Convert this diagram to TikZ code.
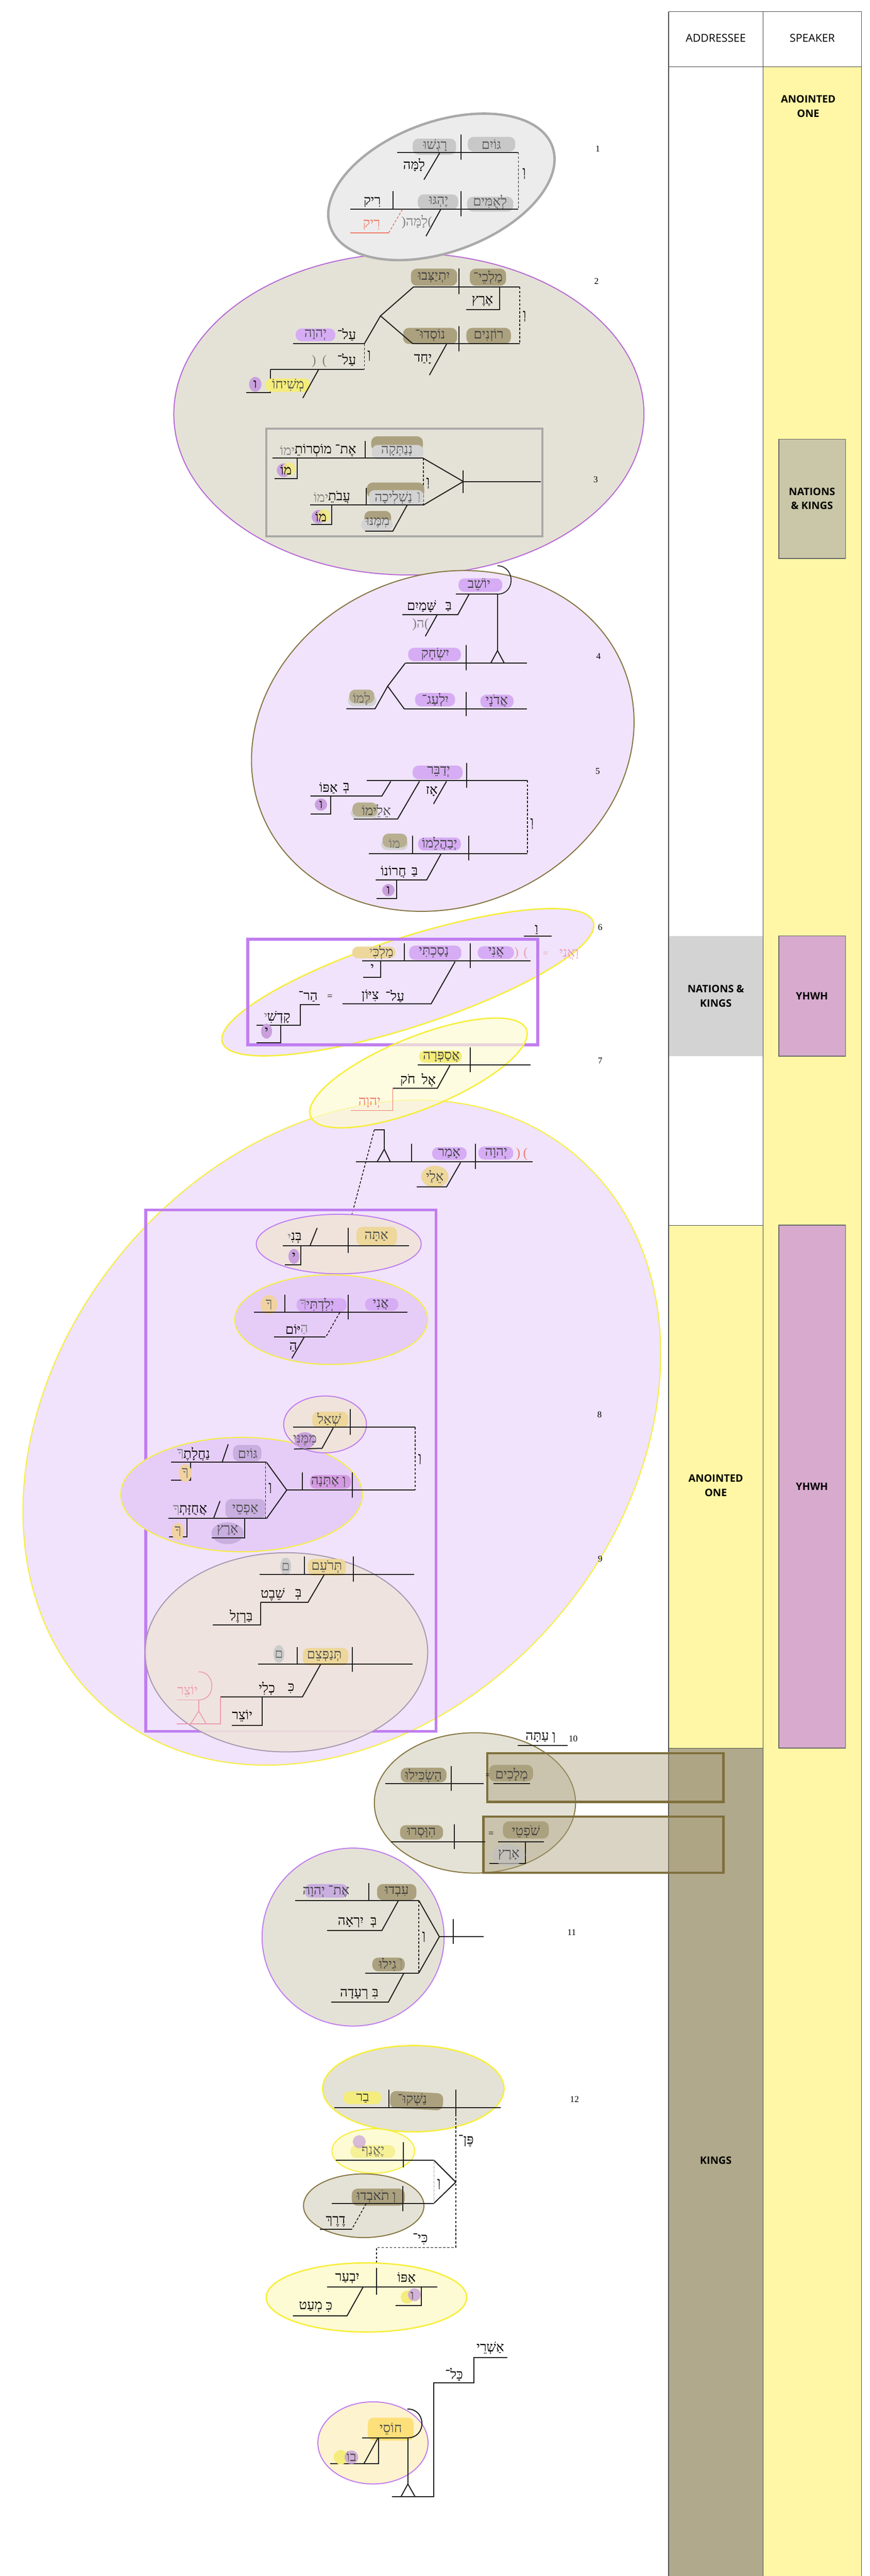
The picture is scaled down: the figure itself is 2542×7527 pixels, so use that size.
\documentclass[tikz,border=0pt]{standalone}
\usepackage{fontspec}
\setmainfont{Liberation Serif}
\newfontfamily\heb[Script=Hebrew]{Liberation Serif}
\newfontfamily\osans{Open Sans}
\TeXXeTstate=1
\definecolor{colY}{HTML}{FFF7A5}
\definecolor{kingsO}{HTML}{B0A98B}
\definecolor{nkGray}{HTML}{D3D3D3}
\definecolor{nkOl}{HTML}{C9C7A8}
\definecolor{yhwhP}{HTML}{D8ABCE}
\definecolor{eGrayF}{HTML}{ECECEC}
\definecolor{eGrayS}{HTML}{A9A9A9}
\definecolor{khaki}{HTML}{E4E2D6}
\definecolor{lav}{HTML}{F0E3FB}
\definecolor{lavB}{HTML}{E6CDF8}
\definecolor{peach}{HTML}{EFE3DC}
\definecolor{purS}{HTML}{B86AD6}
\definecolor{purR}{HTML}{C07EF0}
\definecolor{yelS}{HTML}{F7EE3A}
\definecolor{olvS}{HTML}{857540}
\definecolor{olvR}{HTML}{7E6F3C}
\definecolor{kGray}{HTML}{C8C8C8}
\definecolor{kOlive}{HTML}{ACA17E}
\definecolor{kPurp}{HTML}{D6ACF4}
\definecolor{kPurpG}{HTML}{C9AEE0}
\definecolor{kYel}{HTML}{F4EC7C}
\definecolor{kTan}{HTML}{EDD79A}
\definecolor{kCirc}{HTML}{C9A0DC}
\definecolor{kPink}{HTML}{EE9AB0}
\definecolor{salm}{HTML}{EE7A68}
\definecolor{ltYel}{HTML}{FDFBD3}
\definecolor{ltOr}{HTML}{FEF3CF}
\definecolor{kGold}{HTML}{FDE07A}
\definecolor{grayS}{HTML}{A898B0}
\newcommand\hsz{\fontsize{39}{45}\selectfont}
\newcommand\hb[1]{\beginR #1\endR}
\newcommand\pil[5]{\fill[#1,rounded corners=17pt] (#2,#3) rectangle (#4,#5);}
\begin{document}
\begin{tikzpicture}[x=1pt,y=-1pt,
  ln/.style={line width=3pt,black!88},
  dl/.style={line width=2.5pt,black!88,dash pattern=on 7pt off 5pt},
  hw/.style={font=\heb\hsz,inner sep=0pt},
  gw/.style={font=\heb\hsz,inner sep=0pt,text=black!50},
  vn/.style={font=\fontsize{26}{30}\selectfont,inner sep=0pt},
  eqs/.style={font=\fontsize{28}{30}\selectfont,inner sep=0pt},
  lab/.style={font=\osans\bfseries\fontsize{30}{42}\selectfont,align=center,inner sep=0pt},
  hdr/.style={font=\osans\fontsize{32}{40}\selectfont,inner sep=0pt},
  colline/.style={line width=2.5pt,black!70}]
\useasboundingbox (0,0) rectangle (2542,7527);
\fill[white] (0,0) rectangle (2542,7527);
% ---------------- columns
\fill[colY] (2230,195) rectangle (2518,7527);
\fill[nkGray] (1954,2735) rectangle (2230,3086);
\fill[colY] (1954,3580) rectangle (2230,5108);
\fill[kingsO] (1954,5108) rectangle (2230,7527);
\draw[line width=1pt,black!70] (1954,3580) -- (2230,3580);
\draw[line width=1pt,black!70] (1954,5108) -- (2230,5108);
\draw[colline] (1954,34) -- (1954,7527);
\draw[colline] (2230,34) -- (2230,7527);
\draw[colline] (2518,34) -- (2518,7527);
\draw[colline] (1954,34) -- (2518,34);
\draw[colline] (1954,195) -- (2518,195);
\draw[fill=nkOl,draw=black!60,line width=2pt] (2276,1283) rectangle (2471,1632);
\draw[fill=yhwhP,draw=black!60,line width=2pt] (2276,2735) rectangle (2471,3086);
\draw[fill=yhwhP,draw=black!60,line width=2pt] (2276,3580) rectangle (2471,5108);
\node[hdr] (hA) at (2092,112) {ADDRESSEE};
\node[hdr] (hS) at (2374,112) {SPEAKER};
\node[lab] (L1) at (2362,310) {ANOINTED\\ONE};
\node[lab] (L2) at (2373,1457) {NATIONS\\\& KINGS};
\node[lab] (L3) at (2092,2910) {NATIONS \&\\KINGS};
\node[lab] (L4) at (2373,2910) {YHWH};
\node[lab] (L5) at (2092,4340) {ANOINTED\\ONE};
\node[lab] (L6) at (2373,4344) {YHWH};
\node[lab] (L7) at (2092,6312) {KINGS};
% ---------------- verse 2-3 ellipse
\draw[fill=khaki,draw=purS,line width=3pt] (1195,1210) ellipse [x radius=687pt,y radius=470pt];
% ---------------- verse 1
\draw[fill=eGrayF,draw=eGrayS,line width=7pt,rotate around={20:(1290,546)}] (1290,546) ellipse [x radius=345pt,y radius=190pt];
\pil{kGray}{1206}{405}{1333}{452}
\pil{kGray}{1367}{400}{1506}{443}
\node[hw,text=black!65] (t1) at (1436,422) {\hb{גּוֹיִם}};
\node[hw,text=black!65] (t2) at (1272,425) {\hb{רָגְשׁוּ}};
\draw[ln] (1160,445) -- (1515,445);
\draw[ln] (1347,393) -- (1347,467);
\draw[ln] (1285,447) -- (1239,525);
\node[hw] (t3) at (1210,482) {\hb{לָמָּה}};
\draw[dl] (1515,445) -- (1515,611);
\node[hw] (t4) at (1532,507) {\hb{וְ}};
\pil{kGray}{1365}{575}{1500}{618}
\pil{kGray}{1221}{568}{1339}{612}
\node[hw,text=black!65] (t5) at (1432,590) {\hb{לְאֻמִּים}};
\node[hw,text=black!65] (t6) at (1282,590) {\hb{יֶהְגּוּ}};
\node[hw] (t7) at (1088,590) {\hb{רִיק}};
\draw[ln] (1024,611) -- (1515,611);
\draw[ln] (1347,558) -- (1347,632);
\draw[ln] (1148,558) -- (1148,611);
\draw[ln] (1288,612) -- (1245,690);
\node[gw] (t8) at (1218,648) {(\hb{לָמָּה})};
\draw[line width=2.5pt,salm,dash pattern=on 7pt off 5pt] (1176,612) -- (1136,680);
\draw[line width=2.5pt,salm] (1136,680) -- (1024,680);
\node[hw,text=salm] (t9) at (1086,657) {\hb{רִיק}};
\node[vn] (n1) at (1747,435) {1};
% ---------------- verse 2
\node[vn] (n2) at (1743,822) {2};
\pil{kOlive}{1373}{785}{1479}{835}
\pil{kOlive}{1201}{785}{1336}{835}
\node[hw,text=black!75] (t10) at (1426,810) {\hb{מַלְכֵי־}};
\node[hw,text=black!75] (t11) at (1268,810) {\hb{יִתְיַצְּבוּ}};
\draw[ln] (1209,838) -- (1519,838);
\draw[ln] (1342,784) -- (1342,860);
\draw[ln] (1460,838) -- (1460,905) -- (1363,905);
\node[hw] (t12) at (1410,880) {\hb{אֶרֶץ}};
\draw[dl] (1519,838) -- (1519,1004);
\node[hw] (t13) at (1533,924) {\hb{וְ}};
\pil{kOlive}{1363}{958}{1493}{1005}
\pil{kOlive}{1178}{958}{1336}{1005}
\node[hw,text=black!75] (t14) at (1428,980) {\hb{רוֹזְנִים}};
\node[hw,text=black!75] (t15) at (1257,980) {\hb{נוֹסְדוּ־}};
\draw[ln] (1206,1004) -- (1519,1004);
\draw[ln] (1342,953) -- (1342,1026);
\draw[ln] (1306,1004) -- (1255,1096);
\node[hw] (t16) at (1236,1050) {\hb{יָחַד}};
\draw[ln] (1209,838) -- (1112,923) -- (1206,1004);
\draw[ln] (1112,923) -- (1065,1004);
\draw[ln] (857,1004) -- (1065,1004);
\node[hw] (t17) at (1013,978) {\hb{עַל־}};
\pil{kPurp}{864}{960}{980}{997}
\node[hw,text=black!70] (t18) at (922,978) {\hb{יְהוָה}};
\draw[dl] (1065,1004) -- (1065,1080);
\node[hw] (t19) at (1079,1039) {\hb{וְ}};
\draw[ln] (790,1080) -- (1065,1080);
\node[hw] (t20) at (1013,1052) {\hb{עַל־}};
\node[gw] (t21) at (933,1055) {(\hspace{18pt})};
\draw[ln] (790,1080) -- (790,1147) -- (720,1147);
\fill[kCirc] (746,1123) ellipse (18pt and 22pt);
\node[hw] (t22) at (746,1123) {\hb{ו}};
\pil{kYel}{776}{1106}{907}{1145}
\node[hw,text=black!70] (t23) at (842,1126) {\hb{מְשִׁיחוֹ}};
\draw[ln] (931,1080) -- (885,1163);
% ---------------- verse 3
\node[vn] (n3) at (1741,1402) {3};
\draw[draw=eGrayS,line width=6pt] (778,1253) rectangle (1585,1567);
\pil{kOlive}{1085}{1275}{1236}{1318}
\pil{kGray!80}{1087}{1300}{1237}{1342}
\node[hw,text=black!65] (t24) at (1160,1318) {\hb{נְנַתְּקָה}};
\node[hw,anchor=west] (t25) at (861,1316) {\hb{אֶת־ מוֹסְרוֹתֵ}};
\node[gw,anchor=east] (t25b) at (862,1316) {\hb{ימוֹ}};
\draw[ln] (796,1339) -- (1237,1339);
\draw[ln] (1068,1288) -- (1068,1339);
\draw[ln] (868,1339) -- (868,1399) -- (802,1399);
\fill[kCirc] (829,1374) circle (20pt);
\fill[kYel,opacity=0.8] (845,1370) circle (19pt);
\node[hw] (t26) at (836,1374) {\hb{מוֹ}};
\draw[dl] (1237,1339) -- (1237,1476);
\node[hw] (t27) at (1251,1412) {\hb{וְ}};
\pil{kOlive}{1072}{1410}{1240}{1455}
\pil{kGray!80}{1078}{1432}{1238}{1478}
\node[hw,text=black!65] (t28) at (1150,1453) {\hb{נַשְׁלִיכָה}};
\node[gw] (t29) at (1224,1453) {\hb{וְ}};
\node[hw,anchor=west] (t30) at (959,1453) {\hb{עֲבֹתֵ}};
\node[gw,anchor=east] (t30b) at (960,1453) {\hb{ימוֹ}};
\draw[ln] (906,1476) -- (1237,1476);
\draw[ln] (1070,1425) -- (1070,1476);
\draw[ln] (970,1476) -- (970,1533) -- (910,1533);
\fill[kCirc] (931,1510) circle (20pt);
\fill[kYel,opacity=0.8] (947,1507) circle (19pt);
\node[hw] (t31) at (938,1510) {\hb{מוֹ}};
\draw[ln] (1190,1476) -- (1148,1552) -- (1067,1552);
\pil{kOlive}{1065}{1493}{1143}{1540}
\pil{kGray!80}{1055}{1517}{1148}{1550}
\node[hw,text=black!65] (t32) at (1104,1527) {\hb{מִמֶּנּוּ}};
\draw[ln] (1237,1339) -- (1354,1407) -- (1237,1476);
\draw[ln] (1354,1407) -- (1581,1407);
\draw[ln] (1354,1374) -- (1354,1441);
% ---------------- verse 4-5
\draw[fill=lav,draw=olvS,line width=3pt,rotate around={22:(1294,2165)}] (1294,2165) ellipse [x radius=570pt,y radius=485pt];
\draw[ln,line width=2.5pt] (1454,1653) .. controls (1507,1655) and (1507,1736) .. (1454,1736);
\pil{kPurp}{1340}{1690}{1468}{1729}
\node[hw,text=black!75] (t33) at (1400,1708) {\hb{יוֹשֵׁב}};
\draw[ln] (1333,1736) -- (1454,1736) -- (1454,1901);
\draw[ln] (1434,1938) -- (1454,1901) -- (1474,1938);
\draw[ln] (1371,1736) -- (1338,1796) -- (1176,1796);
\node[hw] (t34) at (1311,1772) {\hb{בַּ}};
\node[hw] (t35) at (1232,1772) {\hb{שָּׁמַיִם}};
\draw[ln] (1278,1796) -- (1243,1859);
\node[gw] (t36) at (1229,1825) {(\hb{ה})};
\node[vn] (n4) at (1749,1917) {4};
\pil{kPurp}{1193}{1893}{1347}{1932}
\node[hw,text=black!75] (t37) at (1272,1912) {\hb{יִשְׂחָק}};
\draw[ln] (1184,1938) -- (1540,1938);
\draw[ln] (1363,1884) -- (1363,1959);
\draw[ln] (1184,1938) -- (1133,2005) -- (1182,2072);
\draw[ln] (1133,2005) -- (1096,2071) -- (1012,2071);
\pil{kGray!80}{1017}{2030}{1100}{2064}
\pil{kOlive!85}{1021}{2015}{1094}{2055}
\node[hw,text=black!60] (t38) at (1057,2042) {\hb{לָמוֹ}};
\pil{kPurp}{1404}{2030}{1501}{2068}
\pil{kPurp}{1213}{2025}{1330}{2064}
\node[hw,text=black!75] (t39) at (1452,2048) {\hb{אֲדֹנָי}};
\node[hw,text=black!75] (t40) at (1272,2045) {\hb{יִלְעַג־}};
\draw[ln] (1182,2072) -- (1540,2072);
\draw[ln] (1363,2022) -- (1363,2093);
\node[vn] (n5) at (1747,2253) {5};
\pil{kPurp}{1206}{2237}{1352}{2277}
\node[hw,text=black!75] (t41) at (1282,2255) {\hb{יְדַבֵּר}};
\draw[ln] (1072,2280) -- (1542,2280);
\draw[ln] (1364,2229) -- (1364,2301);
\draw[ln] (1305,2283) -- (1267,2349);
\node[hw] (t42) at (1262,2313) {\hb{אָז}};
\draw[ln] (1226,2283) -- (1162,2393) -- (1034,2393);
\pil{kGray!80}{1025}{2360}{1106}{2392}
\pil{kOlive!85}{1030}{2345}{1103}{2386}
\node[hw,text=black!70] (t43) at (1100,2370) {\hb{אֵלֵימוֹ}};
\draw[ln] (1142,2283) -- (1116,2326) -- (907,2326);
\node[hw] (t44) at (1012,2303) {\hb{בְּ}};
\node[hw] (t45) at (960,2303) {\hb{אַפּוֹ}};
\draw[ln] (966,2326) -- (966,2378) -- (907,2378);
\fill[kCirc] (938,2351) circle (18pt);
\node[hw] (t46) at (938,2351) {\hb{ו}};
\draw[dl] (1542,2280) -- (1542,2494);
\node[hw] (t47) at (1555,2407) {\hb{וְ}};
\pil{kPurp}{1222}{2447}{1347}{2485}
\pil{kGray!80}{1114}{2452}{1192}{2484}
\pil{kOlive!85}{1118}{2436}{1190}{2476}
\node[hw,text=black!75] (t48) at (1285,2465) {\hb{יְבַהֲלֵמוֹ}};
\node[hw,text=black!55] (t49) at (1153,2465) {\hb{מוֹ}};
\draw[ln] (1078,2494) -- (1542,2494);
\draw[ln] (1370,2442) -- (1370,2514);
\draw[ln] (1206,2442) -- (1206,2494);
\draw[ln] (1289,2495) -- (1247,2571) -- (1098,2571);
\node[hw] (t50) at (1212,2548) {\hb{בַּ}};
\node[hw] (t51) at (1150,2548) {\hb{חֲרוֹנוֹ}};
\draw[ln] (1159,2571) -- (1159,2626) -- (1101,2626);
\fill[kCirc] (1135,2601) circle (18pt);
\node[hw] (t52) at (1135,2601) {\hb{ו}};
% ---------------- verse 6
\draw[fill=lav,draw=yelS,line width=4pt,rotate around={18:(1192,2870)}] (1192,2870) ellipse [x radius=570pt,y radius=130pt];
\draw[draw=purR,line width=9pt] (724,2745) rectangle (1572,3053);
\node[vn] (n6) at (1754,2709) {6};
\draw[ln] (1531,2736) -- (1612,2736);
\node[hw] (t53) at (1568,2716) {\hb{וַ}};
\pil{kPurp}{1396}{2765}{1502}{2802}
\pil{kPurp}{1196}{2763}{1348}{2805}
\pil{kTan}{1029}{2766}{1156}{2800}
\node[hw,text=black!75] (t54) at (1450,2783) {\hb{אֲנִי}};
\node[hw,text=kPink] (t55) at (1523,2786) {(\hspace{14pt})};
\node[hw,text=black!75] (t56) at (1268,2783) {\hb{נָסַכְתִּי}};
\node[hw,text=black!70,anchor=west] (t57) at (1089,2783) {\hb{מַלְכִּ}};
\node[gw,anchor=east] (t57b) at (1090,2783) {\hb{י}};
\node[eqs,text=kPink] (t58) at (1594,2789) {=};
\node[hw,text=kPink] (t59) at (1663,2789) {\hb{וַאֲנִי}};
\draw[ln] (1058,2807) -- (1550,2807);
\draw[ln] (1374,2756) -- (1374,2829);
\draw[ln] (1181,2756) -- (1181,2807);
\draw[ln] (1112,2807) -- (1112,2856) -- (1062,2856);
\node[hw] (t60) at (1088,2829) {\hb{י}};
\draw[ln] (1330,2810) -- (1260,2933) -- (1001,2933);
\node[hw] (t61) at (1154,2910) {\hb{עַל־}};
\node[hw] (t62) at (1082,2910) {\hb{צִיּוֹן}};
\node[eqs] (t63) at (964,2914) {=};
\node[hw] (t64) at (900,2912) {\hb{הַר־}};
\draw[ln] (935,2935) -- (877,2935) -- (877,2996) -- (749,2996);
\node[hw,anchor=west] (t65) at (781,2972) {\hb{קָדְשִׁ}};
\node[gw,anchor=east] (t65b) at (782,2972) {\hb{י}};
\draw[ln] (820,2996) -- (820,3047) -- (749,3047);
\fill[kCirc] (779,3013) ellipse (16pt and 22pt);
\node[hw] (t66) at (779,3013) {\hb{י}};
% ---------------- verse 8-9 big ellipse
\draw[fill=lav,draw=yelS,line width=3pt,rotate around={50:(999,4186)}] (999,4186) ellipse [x radius=1060pt,y radius=830pt];
% ---------------- verse 7
\draw[fill=ltYel,fill opacity=0.7,draw=yelS,line width=4pt,rotate around={22:(1223,3135)}] (1223,3135) ellipse [x radius=340pt,y radius=105pt];
\node[vn] (n7) at (1754,3100) {7};
\pil{kYel}{1225}{3070}{1350}{3105}
\node[hw,text=black!75] (t67) at (1290,3088) {\hb{אֲסַפְּרָה}};
\draw[ln] (1221,3112) -- (1551,3112);
\draw[ln] (1374,3060) -- (1374,3133);
\draw[ln] (1315,3113) -- (1278,3180) -- (1148,3180);
\node[hw] (t68) at (1253,3156) {\hb{אֶל}};
\node[hw] (t69) at (1192,3156) {\hb{חֹק}};
\draw[line width=2.5pt,salm] (1148,3180) -- (1148,3245) -- (1025,3245);
\node[hw,text=salm] (t70) at (1080,3222) {\hb{יְהוָה}};
% ---------------- verse 7b
\pil{kPurp}{1398}{3350}{1500}{3388}
\pil{kPurp}{1263}{3352}{1364}{3389}
\node[hw,text=black!75] (t71) at (1450,3370) {\hb{יְהוָה}};
\node[hw,text=salm] (t72) at (1525,3372) {(\hspace{8pt})};
\node[hw,text=black!75] (t73) at (1313,3370) {\hb{אָמַר}};
\draw[ln] (1040,3395) -- (1556,3395);
\draw[ln] (1389,3342) -- (1389,3416);
\draw[ln] (1203,3342) -- (1203,3395);
\draw[ln] (1102,3395) -- (1123,3358) -- (1141,3395);
\draw[ln] (1123,3358) -- (1123,3301) -- (1094,3301);
\draw[dl] (1094,3301) -- (1018,3588);
\fill[kTan] (1271,3438) ellipse (40pt and 32pt);
\node[hw,text=black!70] (t74) at (1271,3438) {\hb{אֵלַי}};
\draw[ln] (1346,3397) -- (1305,3468) -- (1218,3468);
\draw[draw=purR,line width=8pt] (426,3535) rectangle (1274,5059);
% inner A
\draw[fill=peach,draw=purR,line width=3pt] (990,3635) ellipse [x radius=241pt,y radius=87pt];
\pil{kTan}{1042}{3585}{1160}{3640}
\node[hw,text=black!70] (t75) at (1100,3613) {\hb{אַתָּה}};
\draw[ln] (827,3640) -- (1195,3640);
\draw[ln] (1018,3588) -- (1018,3661);
\draw[ln] (927,3588) -- (906,3640);
\node[hw,anchor=west] (t76) at (850,3617) {\hb{בְּנִ}};
\node[gw,anchor=east] (t76b) at (851,3617) {\hb{י}};
\draw[ln] (879,3640) -- (879,3696) -- (832,3696);
\fill[kCirc] (859,3671) ellipse (16pt and 22pt);
\node[hw] (t77) at (859,3671) {\hb{י}};
% inner B
\draw[fill=lavB,draw=yelS,line width=3pt] (968,3856) ellipse [x radius=282pt,y radius=131pt];
\pil{kPurp}{1067}{3793}{1164}{3830}
\pil{kPurp}{867}{3793}{1013}{3833}
\fill[kTan!80!pink] (786,3812) ellipse (25pt and 28pt);
\node[hw,text=black!75] (t78) at (1113,3812) {\hb{אֲנִי}};
\node[hw,text=black!75,anchor=west] (t79) at (895,3812) {\hb{יְלִדְתִּי}};
\node[gw,anchor=east] (t79b) at (896,3812) {\hb{ךָ}};
\node[hw,text=black!60] (t80) at (786,3812) {\hb{ךָ}};
\draw[ln] (742,3834) -- (1191,3834);
\draw[ln] (1018,3783) -- (1018,3855);
\draw[ln] (832,3783) -- (832,3834);
\draw[dl] (993,3835) -- (952,3907);
\draw[ln] (952,3907) -- (801,3907);
\node[hw,anchor=east] (t81) at (879,3885) {\hb{יּוֹם}};
\node[gw,anchor=west] (t81b) at (878,3885) {\hb{הַ}};
\draw[ln] (889,3907) -- (853,3969);
\node[hw] (t82) at (857,3935) {\hb{הַ}};
\node[vn] (n8) at (1752,4133) {8};
% inner D
\draw[fill=lavB,draw=yelS,line width=3pt] (706,4367) ellipse [x radius=353pt,y radius=167pt];
% inner C
\draw[fill=peach,draw=purR,line width=3pt] (950,4162) ellipse [x radius=121pt,y radius=83pt];
\pil{kTan}{913}{4125}{1018}{4172}
\node[hw,text=black!70] (t83) at (962,4148) {\hb{שְׁאַל}};
\draw[ln] (857,4170) -- (1213,4170);
\draw[ln] (1024,4117) -- (1024,4193);
\draw[ln] (974,4172) -- (941,4232) -- (859,4234);
\fill[kCirc] (891,4209) ellipse (30pt and 24pt);
\node[hw,text=black!65] (t84) at (891,4209) {\hb{מִמֶּנִּי}};
\draw[dl] (1213,4170) -- (1213,4354);
\node[hw] (t85) at (1227,4264) {\hb{וְ}};
\pil{kPurp!90!purple}{906}{4310}{1026}{4350}
\node[hw,text=black!75] (t86) at (960,4330) {\hb{וְ אֶתְּנָה}};
\draw[ln] (838,4354) -- (1213,4354);
\draw[ln] (1030,4303) -- (1030,4376);
\draw[ln] (884,4303) -- (884,4354);
\draw[ln] (779,4273) -- (838,4354) -- (779,4437);
\pil{kPurpG}{681}{4222}{764}{4270}
\node[hw,text=black!70] (t87) at (724,4247) {\hb{גּוֹיִם}};
\draw[ln] (500,4273) -- (779,4273);
\draw[ln] (667,4220) -- (649,4273);
\node[hw,anchor=west] (t88) at (536,4249) {\hb{נַחֲלָתֶ}};
\node[gw,anchor=east] (t88b) at (537,4249) {\hb{ךָ}};
\draw[ln] (557,4273) -- (557,4325) -- (500,4325);
\fill[kTan!80!pink] (541,4304) ellipse (19pt and 26pt);
\node[hw,text=black!60] (t89) at (541,4304) {\hb{ךָ}};
\draw[dl] (776,4273) -- (776,4437);
\node[hw] (t90) at (790,4348) {\hb{וְ}};
\pil{kPurpG}{659}{4380}{776}{4437}
\node[hw,text=black!70] (t91) at (717,4411) {\hb{אַפְסֵי}};
\draw[ln] (492,4437) -- (779,4437);
\draw[ln] (643,4386) -- (624,4437);
\node[hw,anchor=west] (t92) at (524,4413) {\hb{אֲחֻזָּתְ}};
\node[gw,anchor=east] (t92b) at (525,4413) {\hb{ךָ}};
\draw[ln] (547,4437) -- (547,4490) -- (494,4490);
\fill[kTan!80!pink] (520,4475) ellipse (18pt and 26pt);
\node[hw,text=black!60] (t93) at (520,4475) {\hb{ךָ}};
\fill[kPurpG] (665,4480) ellipse (47pt and 32pt);
\node[hw,text=black!70] (t94) at (665,4471) {\hb{אָרֶץ}};
\draw[ln] (715,4437) -- (715,4493) -- (618,4493);
% inner E
\draw[fill=peach,fill opacity=0.9,draw=grayS,line width=3pt] (837,4828) ellipse [x radius=413pt,y radius=291pt];
\node[vn] (n9) at (1754,4555) {9};
\pil{kTan}{900}{4555}{1011}{4604}
\fill[black!20] (835,4577) ellipse (16pt and 26pt);
\node[hw,text=black!70] (t95) at (955,4578) {\hb{תְּרֹעֵם}};
\node[hw,text=black!55] (t96) at (835,4577) {\hb{ם}};
\draw[ln] (758,4600) -- (1210,4600);
\draw[ln] (1033,4548) -- (1033,4622);
\draw[ln] (890,4548) -- (890,4600);
\draw[ln] (947,4602) -- (900,4682) -- (762,4682);
\node[hw] (t97) at (872,4659) {\hb{בְּ}};
\node[hw] (t98) at (797,4659) {\hb{שֵׁבֶט}};
\draw[ln] (762,4682) -- (762,4748) -- (622,4748);
\node[hw] (t99) at (705,4723) {\hb{בַּרְזֶל}};
\pil{kTan}{885}{4815}{1018}{4866}
\fill[black!20] (815,4833) ellipse (16pt and 26pt);
\node[hw,text=black!70] (t100) at (948,4839) {\hb{תְּנַפְּצֵם}};
\node[hw,text=black!55] (t101) at (815,4833) {\hb{ם}};
\draw[ln] (754,4863) -- (1206,4863);
\draw[ln] (1030,4812) -- (1030,4885);
\draw[ln] (869,4812) -- (869,4863);
\draw[ln] (937,4863) -- (884,4958) -- (644,4958);
\node[hw] (t102) at (851,4934) {\hb{כִּ}};
\node[hw] (t103) at (780,4934) {\hb{כְלִי}};
\draw[ln] (766,4958) -- (766,5041) -- (677,5041);
\node[hw] (t104) at (708,5014) {\hb{יוֹצֵר}};
\draw[line width=2.5pt,kPink] (644,4958) -- (644,5037) -- (516,5037);
\draw[line width=2.5pt,kPink] (557,5037) -- (581,5000) -- (603,5037);
\draw[line width=2.5pt,kPink] (581,5000) -- (581,4967) -- (516,4967);
\draw[line width=2.5pt,kPink] (581,4967) .. controls (632,4967) and (632,4885) .. (581,4885);
\node[hw,text=kPink] (t105) at (548,4942) {\hb{יוֹצֵר}};
% ---------------- verse 10
\draw[fill=khaki,draw=olvS,line width=3pt] (1388,5268) ellipse [x radius=294pt,y radius=205pt];
\draw[draw=olvR,line width=7pt,fill=kOlive,fill opacity=0.45] (1424,5123) rectangle (2114,5265);
\draw[draw=olvR,line width=7pt,fill=kOlive,fill opacity=0.45] (1413,5308) rectangle (2114,5472);
\draw[ln] (1513,5100) -- (1659,5100);
\node[hw] (t106) at (1580,5077) {\hb{וְ עַתָּה}};
\node[vn] (n10) at (1675,5080) {10};
\pil{kOlive}{1171}{5165}{1305}{5208}
\node[hw,text=black!75] (t107) at (1238,5189) {\hb{הַשְׂכִּילוּ}};
\draw[ln] (1126,5212) -- (1413,5212);
\draw[ln] (1319,5160) -- (1319,5233);
\node[eqs] (t108) at (1427,5189) {=};
\pil{kOlive}{1429}{5157}{1558}{5205}
\node[hw,text=black!75] (t109) at (1495,5185) {\hb{מְלָכִים}};
\draw[ln] (1442,5212) -- (1549,5212);
\pil{kOlive}{1169}{5333}{1295}{5375}
\node[hw,text=black!75] (t110) at (1232,5355) {\hb{הִוָּסְרוּ}};
\draw[ln] (1142,5382) -- (1418,5382);
\draw[ln] (1328,5330) -- (1328,5403);
\node[eqs] (t111) at (1435,5360) {=};
\pil{kOlive}{1470}{5322}{1604}{5372}
\node[hw,text=black!75] (t112) at (1537,5352) {\hb{שֹׁפְטֵי}};
\draw[ln] (1456,5382) -- (1590,5382);
\draw[ln] (1535,5382) -- (1535,5445) -- (1430,5445);
\fill[black!25,opacity=0.7] (1487,5420) ellipse (48pt and 32pt);
\node[hw,text=black!70] (t113) at (1487,5420) {\hb{אָרֶץ}};
% ---------------- verse 11
\draw[fill=khaki,draw=purR,line width=3pt] (1032,5660) ellipse [x radius=266pt,y radius=260pt];
\node[vn] (n11) at (1671,5646) {11};
\pil{kOlive}{1102}{5505}{1217}{5552}
\pil{kPurpG}{891}{5505}{1016}{5545}
\node[hw,text=black!75] (t114) at (1160,5527) {\hb{עִבְדוּ}};
\node[hw,text=black!75] (t115) at (953,5527) {\hb{אֶת־ יְהוָה}};
\draw[ln] (863,5553) -- (1224,5553);
\draw[ln] (1078,5502) -- (1078,5553);
\draw[ln] (1164,5554) -- (1116,5641) -- (956,5641);
\node[hw] (t116) at (1092,5617) {\hb{בְּ}};
\node[hw] (t117) at (1025,5617) {\hb{יִרְאָה}};
\draw[dl] (1224,5553) -- (1224,5765);
\node[hw] (t118) at (1239,5659) {\hb{וְ}};
\pil{kOlive}{1088}{5720}{1183}{5760}
\node[hw,text=black!75] (t119) at (1133,5740) {\hb{גִילוּ}};
\node[gw] (t119b) at (1172,5740) {\hb{וְ}};
\draw[ln] (1068,5765) -- (1224,5765);
\draw[ln] (1180,5766) -- (1135,5850) -- (968,5850);
\node[hw] (t120) at (1097,5826) {\hb{בִּ}};
\node[hw] (t121) at (1035,5826) {\hb{רְעָדָה}};
\draw[ln] (1224,5553) -- (1284,5659) -- (1224,5765);
\draw[ln] (1284,5659) -- (1413,5659);
\draw[ln] (1325,5608) -- (1325,5680);
% ---------------- verse 12
\node[vn] (n12) at (1679,6134) {12};
\draw[fill=khaki,draw=yelS,line width=4pt] (1208,6103) ellipse [x radius=265pt,y radius=126pt];
\pil{kYel}{1003}{6111}{1115}{6148}
\fill[kOlive,rounded corners=17pt,rotate around={-3:(1218,6138)}] (1140,6113) rectangle (1295,6163);
\node[hw,text=black!75] (t122) at (1205,6135) {\hb{נַשְּׁקוּ־}};
\node[hw,text=black!75] (t123) at (1060,6130) {\hb{בַר}};
\draw[ln] (977,6158) -- (1463,6158);
\draw[ln] (1332,6106) -- (1332,6177);
\draw[ln] (1137,6106) -- (1137,6158);
\draw[dl] (1332,6177) -- (1332,6567) -- (1100,6567) -- (1100,6626);
\node[hw] (t124) at (1362,6256) {\hb{פֶּן־}};
\node[hw] (t125) at (1228,6543) {\hb{כִּי־}};
\draw[fill=ltYel,draw=yelS,line width=3pt] (1091,6285) ellipse [x radius=121pt,y radius=65pt];
\pil{kYel!80}{1024}{6268}{1155}{6305}
\fill[kCirc,opacity=0.7] (1050,6258) circle (19pt);
\node[hw,text=black!60] (t126) at (1090,6287) {\hb{יֶאֱנַף}};
\draw[ln] (982,6312) -- (1268,6312);
\draw[ln] (1179,6260) -- (1179,6333);
\draw[fill=khaki,draw=olvS,line width=3pt] (1063,6445) ellipse [x radius=176pt,y radius=93pt];
\pil{kOlive}{1028}{6395}{1183}{6445}
\node[hw,text=black!75] (t127) at (1100,6418) {\hb{וְ תֹאבְדוּ}};
\draw[ln] (970,6438) -- (1268,6438);
\draw[ln] (1177,6388) -- (1177,6461);
\draw[dl] (1070,6439) -- (1028,6514);
\draw[ln] (1028,6514) -- (935,6514);
\node[hw] (t128) at (981,6491) {\hb{דֶרֶךְ}};
\draw[ln] (1268,6312) -- (1332,6376) -- (1268,6438);
\draw[line width=2pt,black!50,dotted] (1268,6312) -- (1268,6438);
\node[hw] (t129) at (1283,6382) {\hb{וְ}};
\draw[fill=ltYel,draw=yelS,line width=4pt] (1071,6713) ellipse [x radius=293pt,y radius=101pt];
\node[hw] (t130) at (1015,6657) {\hb{יִבְעַר}};
\node[hw] (t131) at (1188,6657) {\hb{אַפּוֹ}};
\draw[ln] (956,6682) -- (1278,6682);
\draw[ln] (1100,6626) -- (1100,6705);
\draw[ln] (1232,6682) -- (1232,6736) -- (1156,6736);
\fill[kYel] (1190,6712) circle (19pt);
\fill[kCirc,opacity=0.8] (1211,6705) circle (19pt);
\node[hw,text=black!70] (t132) at (1205,6708) {\hb{ו}};
\draw[ln] (1061,6683) -- (1014,6767) -- (856,6767);
\node[hw] (t133) at (962,6741) {\hb{כִּ}};
\node[hw] (t134) at (908,6741) {\hb{מְעַט}};
% ---------------- final
\node[hw] (t135) at (1433,6861) {\hb{אַשְׁרֵי}};
\node[hw] (t136) at (1327,6938) {\hb{כָּל־}};
\draw[ln] (1483,6888) -- (1385,6888) -- (1385,6963) -- (1268,6963) -- (1268,7295) -- (1146,7295);
\draw[fill=ltOr,draw=purR,line width=3pt] (1090,7138) ellipse [x radius=161pt,y radius=120pt];
\pil{kGold}{1075}{7064}{1209}{7131}
\node[hw,text=black!70] (t137) at (1142,7097) {\hb{חוֹסֵי}};
\draw[ln] (1059,7123) -- (1192,7123) -- (1192,7258);
\draw[ln] (1172,7295) -- (1192,7258) -- (1213,7295);
\draw[ln] (1192,7123) .. controls (1247,7123) and (1247,7039) .. (1191,7039);
\draw[ln] (1107,7123) -- (1107,7198) -- (965,7198);
\draw[ln] (1105,7123) -- (1064,7198);
\fill[kYel] (996,7180) circle (21pt);
\fill[kCirc,opacity=0.8] (1027,7180) circle (20pt);
\node[hw,text=black!70] (t138) at (1027,7178) {\hb{בוֹ}};
\end{tikzpicture}
\end{document}
